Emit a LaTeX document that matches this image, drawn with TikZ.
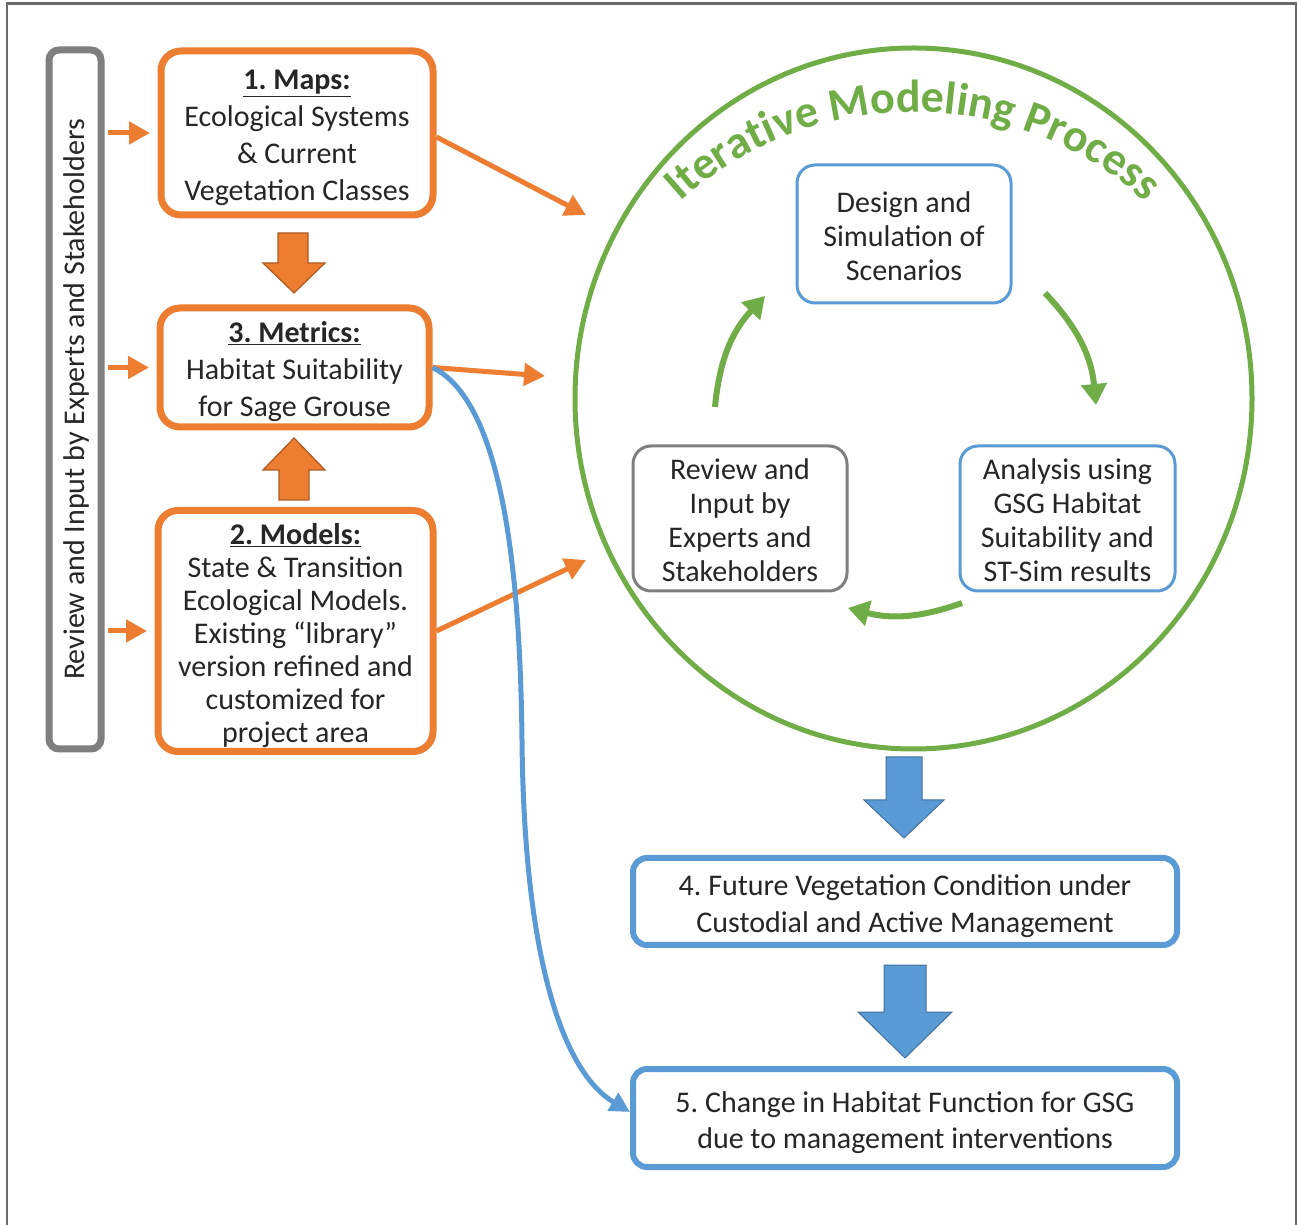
\documentclass[tikz,border=0pt]{standalone}
\usepackage{fontspec}
\setmainfont{Carlito}
\usetikzlibrary{arrows.meta,shapes.geometric,decorations.text}
\definecolor{orng}{HTML}{ED7D31}
\definecolor{orngdk}{HTML}{AE5A21}
\definecolor{blu}{HTML}{5B9BD5}
\definecolor{bludk}{HTML}{41719C}
\definecolor{grn}{HTML}{70AD47}
\definecolor{gry}{HTML}{7F7F7F}
\definecolor{frm}{HTML}{6A6A6A}
\definecolor{txt}{HTML}{262626}
\newcommand{\tS}{\rule{0pt}{34pt}}
\newcommand{\bS}{\rule[-9pt]{0pt}{9pt}}
\frenchspacing
\begin{document}
\begin{tikzpicture}[x=1pt,y=1pt,
  every node/.style={text=txt},
  obox/.style={draw=orng, line width=7pt, rounded corners=20pt, inner sep=0pt, align=center, fill=white},
  graybox/.style={draw=gry, line width=7pt, rounded corners=10pt, inner sep=0pt},
  bbox/.style={draw=blu, line width=3pt, rounded corners=18pt, inner sep=0pt, align=center, font=\fontsize{30}{34}\selectfont},
  gbox/.style={draw=gry, line width=3pt, rounded corners=18pt, inner sep=0pt, align=center, font=\fontsize{30}{34}\selectfont},
  wbox/.style={draw=blu, line width=6pt, rounded corners=14pt, inner sep=0pt, align=center, font=\fontsize{30}{36.5}\selectfont},
  oarrow/.style={draw=orng, line width=5pt, -{Triangle[length=21pt,width=22pt]}},
  garrow/.style={color=grn, line width=6pt, -{Triangle[length=21pt,width=25pt,fill=grn]}},
  barrow/.style={draw=blu, line width=5pt, -{Triangle[length=20pt,width=20pt]}},
  oblock/.style={fill=orng, draw=orngdk, line width=1.2pt},
  bblock/.style={fill=blu, draw=bludk, line width=1pt}
]
\useasboundingbox (0,0) rectangle (1298,1224);
\fill[white] (0,0) rectangle (1298,1224);
\draw[frm, line width=2.5pt] (7,-5) -- (7,1220.5) -- (1296,1220.5) -- (1296,-5);

% left column
\node[graybox, minimum width=52, minimum height=699] (rev) at (75,824.5) {};
\node[rotate=90, font=\fontsize{30}{36}\selectfont] (revtxt) at ([xshift=2pt]rev.center) {Review and Input by Experts and Stakeholders};

\node[obox, minimum width=272, minimum height=164, font=\fontsize{30}{37}\selectfont] (b1) at (297,1091)
  {\tS\underline{\textbf{1. Maps:}}\\Ecological Systems\\\& Current\\Vegetation Classes\bS};
\node[obox, minimum width=269, minimum height=119, font=\fontsize{30}{37}\selectfont] (b3) at (294.5,856.5)
  {\tS\underline{\textbf{3. Metrics:}}\\Habitat Suitability\\for Sage Grouse\bS};
\node[obox, minimum width=275, minimum height=236, font=\fontsize{30}{33}\selectfont] (b2) at (295.5,593)
  {\tS\underline{\textbf{2. Models:}}\\State \& Transition\\Ecological Models.\\Existing “library”\\version refined and\\customized for\\project area\bS};

% block arrows orange
\filldraw[oblock] (278,991) -- (308,991) -- (308,961) -- (325,961) -- (294,931) -- (263,961) -- (278,961) -- cycle;
\filldraw[oblock] (279,724) -- (309,724) -- (309,754) -- (325,754) -- (294,786) -- (263,754) -- (279,754) -- cycle;

% small input arrows
\draw[oarrow, shorten <=3.5pt, shorten >=7.5pt] (rev.east |- b1.west) -- (b1.west);
\draw[oarrow, shorten <=3.5pt, shorten >=7.5pt] (rev.east |- b3.west) -- (b3.west);
\draw[oarrow, shorten <=3.5pt, shorten >=7.5pt] (rev.east |- b2.west) -- (b2.west);

% iterative cycle
\node[draw=grn, line width=5pt, ellipse, minimum width=677, minimum height=701, inner sep=0pt] (cyc) at (913.5,825.5) {};
\path[decorate, decoration={text along path, text align=center, text color=grn,
  text={|\fontsize{46}{54}\selectfont\bfseries|Iterative Modeling Process}}]
  (913,767) ++(133:345) arc[start angle=133, end angle=47, radius=345];

\node[bbox, minimum width=214, minimum height=138] (des) at (904,990) {\tS Design and\\Simulation of\\Scenarios\bS};
\node[gbox, minimum width=214, minimum height=139] (rvw) at (740,705.5) {\tS Review and\\Input by\\Experts and\\Stakeholders\bS};
\node[bbox, minimum width=215, minimum height=139] (ana) at (1067.5,705.5) {\tS Analysis using\\GSG Habitat\\Suitability and\\ST-Sim results\bS};

% cycle arrows
\coordinate (g1s) at (715,817);
\coordinate (g1e) at (765,928);
\coordinate (g2s) at (1045,931);
\coordinate (g2e) at (1096,819);
\coordinate (g3s) at (962,621);
\coordinate (g3e) at (848,616);
\draw[garrow] (g1s) to[bend left=19] (g1e);
\draw[garrow] (g2s) to[bend left=19] (g2e);
\draw[garrow] (g3s) to[bend left=17] (g3e);

% connectors into the cycle
\coordinate (t1) at (586,1009);
\coordinate (t3) at (545,848);
\coordinate (t2) at (586,664);
\draw[oarrow] ([yshift=-4pt]b1.east) -- (t1);
\draw[oarrow] (b3.east) -- (t3);
\draw[oarrow] (b2.east) -- (t2);

% outputs
\node[wbox, minimum width=544, minimum height=87] (fut) at (905,322.5)
  {\tS 4. Future Vegetation Condition under\\Custodial and Active Management\bS};
\node[wbox, minimum width=544, minimum height=98] (chg) at (905,106)
  {\tS 5. Change in Habitat Function for GSG\\due to management interventions\bS};

\filldraw[bblock] (886,467) -- (922,467) -- (922,424) -- (944,424) -- (904,386) -- (864,424) -- (886,424) -- cycle;
\filldraw[bblock] (884,259) -- (926,259) -- (926,212) -- (952,212) -- (905,166) -- (858,212) -- (884,212) -- cycle;

% blue bypass
\draw[barrow] (b3.east) .. controls (500,824) and (520,664) .. (522,484)
  .. controls (524,274) and (560,154) .. ([yshift=6pt]chg.west);
\end{tikzpicture}
\end{document}
